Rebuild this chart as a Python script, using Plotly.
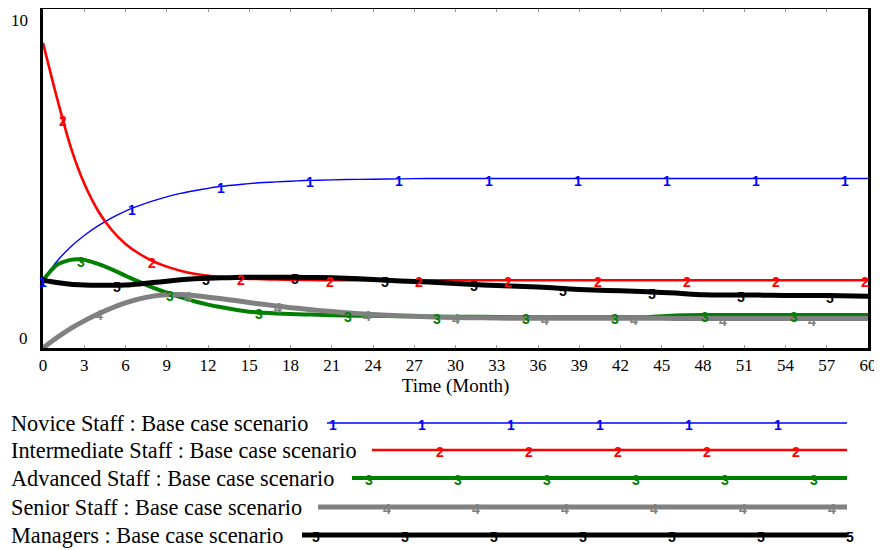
import numpy as np
import plotly.graph_objects as go

# ---------------- data ----------------
months = list(range(0, 21)) + list(range(22, 61, 2))

novice = [2.0, 2.55, 2.98, 3.32, 3.6, 3.84, 4.04, 4.2, 4.34, 4.46, 4.56, 4.64, 4.71, 4.77, 4.81, 4.85,
          4.88, 4.9, 4.92, 4.94, 4.95,
          4.97, 4.98, 4.99, 5.0, 5.0, 5.0, 5.0, 5.0, 5.0, 5.0, 5.0, 5.0, 5.0, 5.0, 5.0, 5.0, 5.0, 5.0, 5.0, 5.0]
intermediate = [9.0, 7.4, 5.95, 4.85, 4.05, 3.48, 3.07, 2.78, 2.56, 2.4, 2.28, 2.19, 2.13, 2.09, 2.06, 2.04,
                2.03, 2.02, 2.01, 2.01, 2.0,
                2.0, 2.0, 2.0, 2.0, 2.0, 2.0, 2.0, 2.0, 2.0, 2.0, 2.0, 2.0, 2.0, 2.0, 2.0, 2.0, 2.0, 2.0, 2.0, 2.0]
advanced = [2.0, 2.45, 2.6, 2.6, 2.48, 2.32, 2.13, 1.95, 1.78, 1.63, 1.5, 1.38, 1.28, 1.2, 1.13, 1.07,
            1.04, 1.02, 1.0, 0.99, 0.98,
            0.96, 0.95, 0.94, 0.93, 0.92, 0.92, 0.91, 0.91, 0.91, 0.91, 0.91, 0.91, 0.96, 0.97, 0.97, 0.97,
            0.97, 0.97, 0.97, 0.97]
senior = [0.0, 0.3, 0.57, 0.8, 1.0, 1.18, 1.33, 1.45, 1.53, 1.57, 1.58, 1.55, 1.5, 1.45, 1.4, 1.34,
          1.29, 1.24, 1.19, 1.15, 1.11,
          1.04, 0.99, 0.95, 0.92, 0.9, 0.89, 0.88, 0.88, 0.88, 0.88, 0.88, 0.88, 0.87, 0.87, 0.87, 0.87,
          0.87, 0.87, 0.87, 0.87]
managers = [2.0, 1.93, 1.88, 1.86, 1.85, 1.85, 1.86, 1.89, 1.93, 1.97, 2.01, 2.04, 2.06, 2.07, 2.08, 2.09,
            2.09, 2.09, 2.09, 2.08, 2.08,
            2.06, 2.02, 1.98, 1.95, 1.9, 1.86, 1.83, 1.8, 1.75, 1.71, 1.69, 1.66, 1.62, 1.57, 1.56, 1.56,
            1.55, 1.55, 1.54, 1.53]

series_names = ["Novice Staff : Base case scenario",
                "Intermediate Staff : Base case scenario",
                "Advanced Staff : Base case scenario",
                "Senior Staff : Base case scenario",
                "Managers : Base case scenario"]
series_values = [novice, intermediate, advanced, senior, managers]
series_digits = ["1", "2", "3", "4", "5"]
x_ticks = list(range(0, 61, 3))

# ---------------- style ----------------
colors = ["#0000FF", "#FF0000", "#008000", "#808080", "#000000"]
widths = [1.4, 2.6, 4, 5, 5]
W, H = 882, 550
OFF = 8                                   # page body margin of the browser
L, R, T, B = 43 - OFF, 868 - OFF, 9 - OFF, 348 - OFF   # plot area in figure pixels
label_offsets = [0, 1.45, 2.75, 4.1, 5.4]   # months
label_step = 6.48
serif = "Liberation Serif, Times New Roman, serif"
sans = "Liberation Sans, Arial, sans-serif"

fig = go.Figure()
for name, vals, c, w in zip(series_names, series_values, colors, widths):
    fig.add_trace(go.Scatter(x=months, y=vals, mode="lines", name=name,
                             line=dict(color=c, width=w, shape="spline", smoothing=0.6),
                             showlegend=False, hoverinfo="skip"))

annotations = []
# digits along the curves
for i, (vals, c, d) in enumerate(zip(series_values, colors, series_digits)):
    t = label_offsets[i]
    while t <= 60.0:
        annotations.append(dict(x=t, y=float(np.interp(t, months, vals)), text="<b>" + d + "</b>",
                                showarrow=False, font=dict(family=sans, size=14, color=c),
                                xanchor="center", yanchor="middle", yshift=-2))
        t += label_step


def px(X):
    """screen x pixel -> paper coordinate"""
    return (X - OFF - L) / (R - L)


def py(Y):
    """screen y pixel -> paper coordinate"""
    return (B - (Y - OFF)) / (B - T)


# y tick labels (Vensim-style placement inside the range)
annotations.append(dict(xref="paper", yref="paper", x=px(30), y=py(20), text="10", showarrow=False,
                        xanchor="right", yanchor="middle", font=dict(family=serif, size=17, color="black")))
annotations.append(dict(xref="paper", yref="paper", x=px(30), y=py(338), text="0", showarrow=False,
                        xanchor="right", yanchor="middle", font=dict(family=serif, size=17, color="black")))

# custom legend
legend_rows = [423, 450, 478, 507, 535]
legend_line_start = [327, 372, 352, 318, 302]
legend_line_end = 847
shapes = []
for i, (name, c, w, d) in enumerate(zip(series_names, colors, widths, series_digits)):
    yy = py(legend_rows[i])
    annotations.append(dict(xref="paper", yref="paper", x=px(9), y=yy, text=name, showarrow=False,
                            xanchor="left", yanchor="middle",
                            font=dict(family=serif, size=22.3, color="black")))
    shapes.append(dict(type="line", xref="paper", yref="paper", x0=px(legend_line_start[i]), x1=px(legend_line_end),
                       y0=yy, y1=yy, line=dict(color=c, width=w)))
    k = 0
    while True:
        xx = 66 + 18 * i + 89 * k
        k += 1
        if xx > 851:
            break
        if xx < legend_line_start[i] - 3:
            continue
        annotations.append(dict(xref="paper", yref="paper", x=px(xx), y=yy, text="<b>" + d + "</b>",
                                showarrow=False, xanchor="center", yanchor="middle", yshift=-2,
                                font=dict(family=sans, size=14, color=c)))

fig.update_layout(
    width=W, height=H,
    margin=dict(l=L, r=W - R, t=T, b=H - B, autoexpand=False),
    paper_bgcolor="white", plot_bgcolor="white",
    annotations=annotations, shapes=shapes,
    xaxis=dict(range=[0, 60], tickvals=x_ticks, ticktext=[str(v) for v in x_ticks], automargin=False,
               showgrid=False, zeroline=False, showline=True, linecolor="black", linewidth=3,
               mirror="ticks", ticks="inside", ticklen=3, tickcolor="#999999", tickwidth=1,
               tickfont=dict(family=serif, size=17, color="black"),
               title=dict(text="Time (Month)", font=dict(family=serif, size=19, color="black"), standoff=2)),
    yaxis=dict(range=[0, 10], showticklabels=False, ticks="", automargin=False,
               showgrid=False, zeroline=False, showline=True, linecolor="black", linewidth=3,
               mirror=True),
)

fig.write_html("out.html")
